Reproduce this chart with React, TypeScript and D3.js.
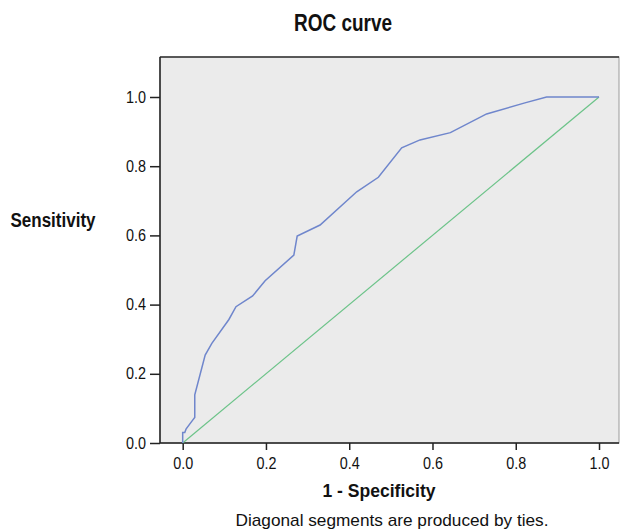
import React, { useEffect, useRef } from 'react';
import * as d3 from 'd3';

// ROC points (1 - specificity, sensitivity)
const fpr = [0, 0, 0.005, 0.008, 0.024, 0.029, 0.029, 0.054, 0.07, 0.111, 0.128, 0.168, 0.198, 0.267, 0.275, 0.33, 0.418, 0.47, 0.526, 0.57, 0.643, 0.73, 0.822, 0.874, 1.0];
const tpr = [0, 0.03, 0.03, 0.04, 0.066, 0.074, 0.139, 0.254, 0.288, 0.357, 0.394, 0.425, 0.469, 0.543, 0.598, 0.63, 0.726, 0.768, 0.853, 0.876, 0.897, 0.951, 0.983, 1.0, 1.0];
const refLine = [0, 1];
const ticks = [0, 0.2, 0.4, 0.6, 0.8, 1.0];

const FONT = "'Liberation Sans', Arial, sans-serif";

const App = () => {
  const svgRef = useRef<SVGSVGElement>(null);

  useEffect(() => {
    const width = 622;
    const height = 532;
    const left = 160, right = 619, top = 57, bottom = 443;

    const svg = d3.select(svgRef.current);
    svg.selectAll('*').remove();
    svg.attr('width', width).attr('height', height);

    const x = d3.scaleLinear().domain([-0.0545, 1.048]).range([left, right]);
    const y = d3.scaleLinear().domain([0, 1.1156]).range([bottom, top]);

    // plot background + frame
    svg.append('rect')
      .attr('x', left).attr('y', top)
      .attr('width', right - left).attr('height', bottom - top)
      .attr('fill', '#ebebeb')
      .attr('stroke', '#9a9a9a')
      .attr('stroke-width', 1);
    svg.append('line')
      .attr('x1', left).attr('x2', right).attr('y1', top).attr('y2', top)
      .attr('stroke', '#333').attr('stroke-width', 1.5);

    const xAxis = svg.append('g')
      .attr('transform', `translate(0,${bottom})`)
      .call(d3.axisBottom(x).tickValues(ticks).tickFormat(d3.format('.1f')).tickSize(7).tickPadding(8));
    const yAxis = svg.append('g')
      .attr('transform', `translate(${left},0)`)
      .call(d3.axisLeft(y).tickValues(ticks).tickFormat(d3.format('.1f')).tickSize(10).tickPadding(4));

    xAxis.select('.domain').attr('d', `M${left},0H${right}`).attr('stroke', '#222').attr('stroke-width', 1.5);
    yAxis.select('.domain').attr('d', `M0,${top}V${bottom}`).attr('stroke', '#222').attr('stroke-width', 1.5);
    [xAxis, yAxis].forEach(g => {
      g.selectAll('.tick line').attr('stroke', '#222').attr('stroke-width', 1.5);
      g.selectAll('.tick text')
        .attr('fill', '#111')
        .attr('textLength', 20)
        .attr('lengthAdjust', 'spacingAndGlyphs')
        .style('font-family', FONT)
        .style('font-size', '16px');
    });

    // reference diagonal
    svg.append('line')
      .attr('x1', x(refLine[0])).attr('y1', y(refLine[0]))
      .attr('x2', x(refLine[1])).attr('y2', y(refLine[1]))
      .attr('stroke', '#6cc389').attr('stroke-width', 1.2);

    const line = d3.line<number>()
      .x(d => x(d))
      .y((d, i) => y(tpr[i]));
    svg.append('path')
      .datum(fpr)
      .attr('d', line)
      .attr('fill', 'none')
      .attr('stroke', '#6f86cc')
      .attr('stroke-width', 1.5);

    const label = (txt: string, cx: number, cy: number, size: number, len: number, bold: boolean) =>
      svg.append('text')
        .attr('x', cx).attr('y', cy)
        .attr('text-anchor', 'middle')
        .attr('textLength', len)
        .attr('lengthAdjust', 'spacingAndGlyphs')
        .attr('fill', '#111')
        .style('font-family', FONT)
        .style('font-weight', bold ? 'bold' : 'normal')
        .style('font-size', `${size}px`)
        .text(txt);

    label('ROC curve', 343, 31, 23, 98, true);
    label('Sensitivity', 53, 227, 20, 85, true);
    label('1 - Specificity', 379, 497, 19, 113, true);
    label('Diagonal segments are produced by ties.', 392, 526, 17, 313, false);
  }, []);

  return <svg ref={svgRef} style={{ position: 'absolute', left: 0, top: 0 }}></svg>;
};

export default App;
